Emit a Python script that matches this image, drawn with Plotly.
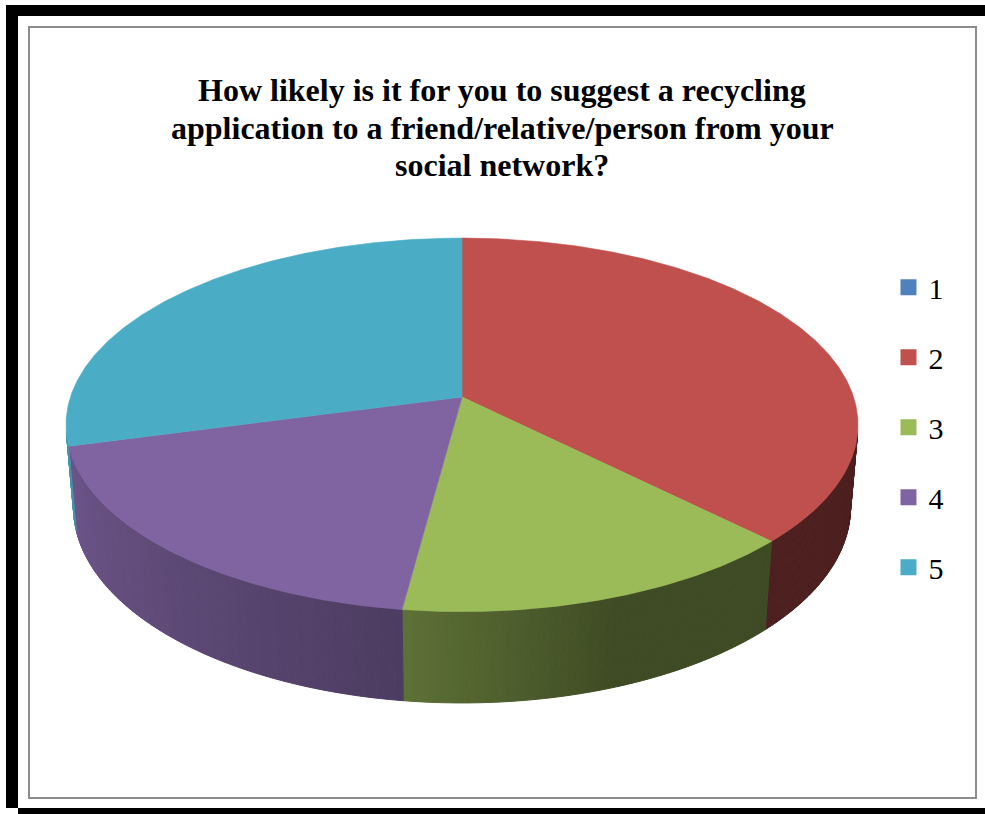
import math
import numpy as np
import plotly.graph_objects as go

# ---- data ----
categories = ["1", "2", "3", "4", "5"]
counts = [0, 18, 7, 9, 14]
colors = ["#4F81BD", "#C0504D", "#9BBB59", "#8064A2", "#4BACC6"]
title_lines = [
    "How likely is it for you to suggest a recycling",
    "application to a friend/relative/person from your",
    "social network?",
]

# ---- 3D pie projection settings (style / layout) ----
W, H_PX = 985, 814
CX, CY = 462.0, 397.0
F = 2322.0
D0 = 5.93
PHI = math.radians(27.8)
DEPTH = 0.241
SERIF = "Liberation Serif, Times New Roman, serif"


def proj(theta_deg, z):
    t = math.radians(theta_deg)
    X, Y = math.sin(t), math.cos(t)
    v = Y * math.sin(PHI) + z * math.cos(PHI)
    w = D0 + Y * math.cos(PHI) - z * math.sin(PHI)
    return CX + F * X / w, CY - F * v / w


def hex_rgb(h):
    h = h.lstrip("#")
    return tuple(int(h[i:i + 2], 16) for i in (0, 2, 4))


def shade(hexc, k):
    r, g, b = hex_rgb(hexc)
    return "rgb(%d,%d,%d)" % (round(r * k), round(g * k), round(b * k))


def light(theta):
    return float(np.interp(theta, [101, 160, 187, 256, 262], [0.40, 0.40, 0.60, 0.86, 0.87]))


total = sum(counts)
starts, ends = [], []
acc = 0.0
for c in counts:
    starts.append(acc / total * 360.0)
    acc += c
    ends.append(acc / total * 360.0)

vis_lo = math.degrees(math.acos(-1.0 / (D0 * math.cos(PHI))))
vis_hi = 360.0 - vis_lo

fig = go.Figure()

# side walls
for i, c in enumerate(counts):
    if c <= 0:
        continue
    a, b = max(starts[i], vis_lo), min(ends[i], vis_hi)
    if b <= a:
        continue
    n = max(1, int(math.ceil((b - a) * 2)))
    edges = np.linspace(a, b, n + 1)
    for t1, t2 in zip(edges[:-1], edges[1:]):
        p1, p2 = proj(t1, 0), proj(t2, 0)
        q2, q1 = proj(t2, -DEPTH), proj(t1, -DEPTH)
        col = shade(colors[i], light((t1 + t2) / 2))
        fig.add_trace(go.Scatter(
            x=[p1[0], p2[0], q2[0], q1[0], p1[0]],
            y=[p1[1], p2[1], q2[1], q1[1], p1[1]],
            mode="lines", fill="toself", fillcolor=col,
            line=dict(color=col, width=1),
            hoverinfo="skip", showlegend=False))

# top faces
for i, c in enumerate(counts):
    if c <= 0:
        continue
    ts = np.linspace(starts[i], ends[i], max(2, int(ends[i] - starts[i]) * 2 + 1))
    xs, ys = [CX], [CY]
    for t in ts:
        px, py = proj(t, 0)
        xs.append(px)
        ys.append(py)
    xs.append(CX)
    ys.append(CY)
    fig.add_trace(go.Scatter(
        x=xs, y=ys, mode="lines", fill="toself", fillcolor=colors[i],
        line=dict(color=colors[i], width=0.6),
        hoverinfo="skip", showlegend=False))

# legend entries
for i, cat in enumerate(categories):
    fig.add_trace(go.Scatter(
        x=[None], y=[None], mode="markers", name=cat, legendgroup=cat,
        marker=dict(symbol="square", size=18, color=colors[i]),
        hoverinfo="skip", showlegend=True))

shapes = [
    dict(type="rect", xref="x", yref="y", x0=29, y0=27, x1=976, y1=798,
         line=dict(color="#8c8c8c", width=2), fillcolor="rgba(0,0,0,0)", layer="below"),
    dict(type="rect", xref="x", yref="y", x0=6, y0=5, x1=985, y1=16,
         line=dict(width=0), fillcolor="black"),
    dict(type="rect", xref="x", yref="y", x0=6, y0=5, x1=18, y1=808,
         line=dict(width=0), fillcolor="black"),
    dict(type="rect", xref="x", yref="y", x0=18, y0=808, x1=985, y1=814,
         line=dict(width=0), fillcolor="black"),
]

title_y = [90, 127.6, 165.3]
annotations = [
    dict(x=502, y=yy, xref="x", yref="y", xanchor="center", yanchor="middle",
         text="<b>" + line + "</b>", showarrow=False,
         font=dict(family=SERIF, size=32, color="black"))
    for line, yy in zip(title_lines, title_y)
]

fig.update_layout(
    width=W, height=H_PX,
    margin=dict(l=0, r=0, t=0, b=0),
    paper_bgcolor="white", plot_bgcolor="white",
    xaxis=dict(range=[0, W], visible=False, fixedrange=True),
    yaxis=dict(range=[H_PX, 0], visible=False, fixedrange=True),
    shapes=shapes,
    showlegend=True,
    legend=dict(x=0.902, y=0.679, xanchor="left", yanchor="top",
                font=dict(family=SERIF, size=30, color="black"),
                tracegroupgap=28, bgcolor="rgba(0,0,0,0)"),
    annotations=annotations,
)

fig.write_html("out.html", config={"displayModeBar": False},
               post_script="document.body.style.margin='0px';document.body.style.overflow='hidden';")
